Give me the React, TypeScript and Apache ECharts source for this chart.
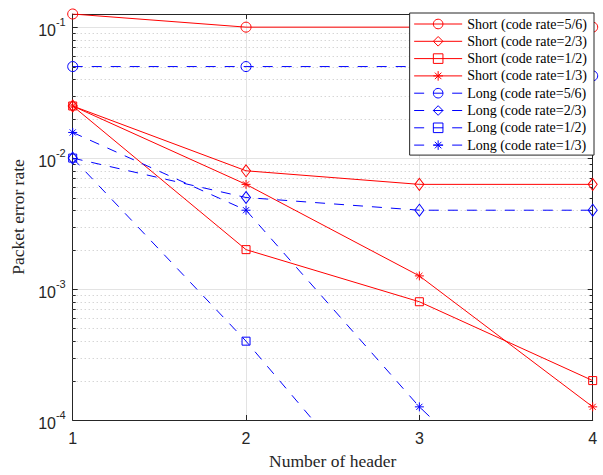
import React, { useEffect, useRef } from "react";
import * as echarts from "echarts";

// ---- data ----
const xValues = [1, 2, 3, 4];
const shortRate56 = [0.126, 0.1, 0.1, 0.1];
const shortRate23 = [0.025, 0.008, 0.0063, 0.0063];
const shortRate12 = [0.025, 0.002, 0.0008, 0.0002];
const shortRate13 = [0.025, 0.0063, 0.00126, 0.000126];
const longRate56 = [0.05, 0.05, 0.05, 0.0425];
const longRate23 = [0.01, 0.005, 0.004, 0.004];
const longRate12 = [0.01, 0.0004, 0.000011, 0.0000006];
const longRate13 = [0.0157, 0.004, 0.000126, 0.000007];

const seriesNames = [
  "Short (code rate=5/6)",
  "Short (code rate=2/3)",
  "Short (code rate=1/2)",
  "Short (code rate=1/3)",
  "Long (code rate=5/6)",
  "Long (code rate=2/3)",
  "Long (code rate=1/2)",
  "Long (code rate=1/3)",
];
const seriesValues = [
  shortRate56, shortRate23, shortRate12, shortRate13,
  longRate56, longRate23, longRate12, longRate13,
];

const yMin = 1e-4;
const yMax = 0.126;
const decades = [1e-4, 1e-3, 1e-2, 1e-1];
const minorMultipliers = [2, 3, 4, 5, 6, 7, 8, 9];

const RED = "#ff0000";
const BLUE = "#0000ff";
const AXIS = "#262626";
const SANS = "'Liberation Sans', Arial, sans-serif";
const SERIF = "'Liberation Serif', 'Times New Roman', serif";
const DASH = [10, 9];

const STAR = "path://M5,0L5,10M0,5L10,5M1.6,1.6L8.4,8.4M1.6,8.4L8.4,1.6";
const markers: { symbol: string; size: number | number[] }[] = [
  { symbol: "circle", size: 10 },
  { symbol: "diamond", size: [9, 12] },
  { symbol: "rect", size: 8 },
  { symbol: STAR, size: 9 },
];

export default function App() {
  const ref = useRef<HTMLDivElement>(null);
  useEffect(() => {
    if (!ref.current) return;
    const chart = echarts.init(ref.current, undefined, { renderer: "svg" });

    const minorValues: number[][] = [];
    decades.forEach((d) => {
      minorMultipliers.forEach((m) => {
        const v = m * d;
        if (v < yMax) minorValues.push([xValues[0], v]);
      });
    });

    const lineSeries = seriesNames.map((name, i) => {
      const isShort = i < 4;
      const color = isShort ? RED : BLUE;
      const mk = markers[i % 4];
      return {
        name,
        type: "line",
        data: xValues.map((x, j) => [x, seriesValues[i][j]]),
        symbol: mk.symbol,
        symbolSize: mk.size,
        showAllSymbol: true,
        clip: true,
        lineStyle: { color, width: 1, type: isShort ? "solid" : DASH },
        itemStyle: { color: "rgba(0,0,0,0)", borderColor: color, borderWidth: 1 },
        emphasis: { disabled: true },
        z: 3,
      };
    });

    const minorSeries = {
      name: "minor",
      type: "custom",
      silent: true,
      z: 1,
      data: minorValues,
      encode: { x: 0, y: 1 },
      renderItem: (params: any, api: any) => {
        const v = api.value(1);
        const p0 = api.coord([xValues[0], v]);
        const p1 = api.coord([xValues[xValues.length - 1], v]);
        const y = Math.round(p0[1]) + 0.5;
        return {
          type: "group",
          children: [
            {
              type: "line",
              shape: { x1: p0[0], y1: y, x2: p1[0], y2: y },
              style: { stroke: "#c4c4c4", lineWidth: 1, lineDash: [1, 3] },
            },
            {
              type: "line",
              shape: { x1: p0[0], y1: y, x2: p0[0] + 3, y2: y },
              style: { stroke: AXIS, lineWidth: 1 },
            },
            {
              type: "line",
              shape: { x1: p1[0], y1: y, x2: p1[0] - 3, y2: y },
              style: { stroke: AXIS, lineWidth: 1 },
            },
          ],
        };
      },
    };

    const logLabel = (v: number) => {
      const e = Math.log10(v);
      const r = Math.round(e);
      if (Math.abs(e - r) > 1e-6) return "";
      return `{b|10}{s|${r}}`;
    };

    const option: any = {
      animation: false,
      backgroundColor: "#ffffff",
      grid: { left: 72.7, right: 10.3, top: 14, bottom: 49.6, containLabel: false },
      legend: {
        orient: "vertical",
        right: 9,
        top: 13,
        z: 20,
        padding: [4, 7, 3, 4],
        itemWidth: 48,
        itemHeight: 12,
        itemGap: 3.3,
        backgroundColor: "#ffffff",
        borderColor: AXIS,
        borderWidth: 1,
        borderRadius: 0,
        selectedMode: false,
        textStyle: { fontFamily: SERIF, fontSize: 14, color: "#000000" },
        data: seriesNames.map((name, i) => {
          const isShort = i < 4;
          const color = isShort ? RED : BLUE;
          return {
            name,
            itemStyle: { color: "rgba(0,0,0,0)", borderColor: color, borderWidth: 1 },
            lineStyle: { color, width: 1, type: isShort ? "solid" : DASH },
          };
        }),
      },
      xAxis: [
        {
          type: "value",
          min: 1,
          max: 4,
          interval: 1,
          position: "bottom",
          name: "Number of header",
          nameLocation: "middle",
          nameGap: 32,
          nameTextStyle: { fontFamily: SERIF, fontSize: 17.5, color: AXIS },
          axisLine: { show: true, onZero: false, lineStyle: { color: AXIS, width: 1 } },
          axisTick: { show: true, inside: true, length: 5, lineStyle: { color: AXIS } },
          axisLabel: { margin: 10, fontFamily: SANS, fontSize: 16, color: AXIS },
          splitLine: { show: true, lineStyle: { color: "#e3e3e3", width: 1 } },
        },
        {
          type: "value",
          min: 1,
          max: 4,
          interval: 1,
          position: "top",
          axisLine: { show: true, onZero: false, lineStyle: { color: AXIS, width: 1 } },
          axisTick: { show: true, inside: true, length: 5, lineStyle: { color: AXIS } },
          axisLabel: { show: false },
          splitLine: { show: false },
        },
      ],
      yAxis: [
        {
          type: "log",
          logBase: 10,
          min: yMin,
          max: yMax,
          position: "left",
          name: "Packet error rate",
          nameLocation: "middle",
          nameGap: 36,
          nameTextStyle: { fontFamily: SERIF, fontSize: 17.5, color: AXIS },
          axisLine: { show: true, lineStyle: { color: AXIS, width: 1 } },
          axisTick: { show: true, inside: true, length: 5, lineStyle: { color: AXIS } },
          axisLabel: {
            margin: 7,
            formatter: logLabel,
            showMaxLabel: false,
            rich: {
              b: { fontFamily: SANS, fontSize: 16, color: AXIS, lineHeight: 22, verticalAlign: "bottom" },
              s: { fontFamily: SANS, fontSize: 11, color: AXIS, lineHeight: 13, verticalAlign: "top" },
            },
          },
          splitLine: { show: true, lineStyle: { color: "#e3e3e3", width: 1 } },
        },
        {
          type: "log",
          logBase: 10,
          min: yMin,
          max: yMax,
          position: "right",
          axisLine: { show: true, lineStyle: { color: AXIS, width: 1 } },
          axisTick: { show: true, inside: true, length: 5, lineStyle: { color: AXIS } },
          axisLabel: { show: false },
          splitLine: { show: false },
        },
      ],
      series: [minorSeries, ...lineSeries],
    };
    chart.setOption(option);
    return () => chart.dispose();
  }, []);
  return (
    <div
      ref={ref}
      style={{ position: "absolute", left: 0, top: 0, width: 603, height: 475 }}
    />
  );
}
